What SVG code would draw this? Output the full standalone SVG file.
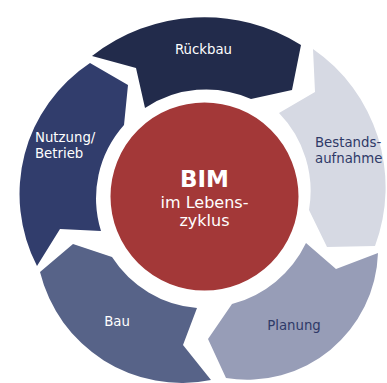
<svg xmlns="http://www.w3.org/2000/svg" width="387" height="383" viewBox="0 0 387 383">
  <style>
    .lbl { font-family: "DejaVu Sans", Verdana, sans-serif; font-size: 13.3px; }
    .light { fill: #ffffff; }
    .dark { fill: #2f3a68; }
    .center { font-family: "DejaVu Sans", Verdana, sans-serif; fill: #ffffff; text-anchor: middle; }
  </style>
  <rect width="387" height="383" fill="#ffffff"/>
  <g id="connectors"></g>
  <g id="node-rueckbau">
    <path d="M 92,56 A 182 182 0 0 1 301,45 L 292,90 L 251,99 A 110 110 0 0 0 145,108 L 136,68 Z" fill="#222b4b"/>
    <text class="lbl light" x="203.5" y="54" text-anchor="middle">Rückbau</text>
  </g>
  <g id="node-bestandsaufnahme">
    <path d="M 313,49 A 168 168 0 0 1 375,246 L 327,247 L 309,210 A 112 112 0 0 0 279,113 L 315,92 Z" fill="#d6d9e3"/>
    <text class="lbl dark" x="315" y="147">Bestands-</text>
    <text class="lbl dark" x="315" y="163">aufnahme</text>
  </g>
  <g id="node-planung">
    <path d="M 378,253 A 131 131 0 0 1 226,378 L 208,339 L 232,304 A 114 114 0 0 0 306,243 L 336,269 Z" fill="#979db7"/>
    <text class="lbl dark" x="294" y="329.5" text-anchor="middle">Planung</text>
  </g>
  <g id="node-bau">
    <path d="M 211,380 A 146 146 0 0 1 40,272 L 73,244 L 112,257 A 112 112 0 0 0 197,308 L 183,345 Z" fill="#576388"/>
    <text class="lbl light" x="117" y="326" text-anchor="middle">Bau</text>
  </g>
  <g id="node-nutzung">
    <path d="M 37,266 A 157 157 0 0 1 90,63 L 128,85 L 124,125 A 110 110 0 0 0 101,231 L 60,229 Z" fill="#313d6c"/>
    <text class="lbl light" x="35" y="141.5">Nutzung/</text>
    <text class="lbl light" x="35" y="158">Betrieb</text>
  </g>
  <g id="node-bim">
    <circle cx="204.5" cy="196.5" r="98" fill="#a33838" stroke="#ffffff" stroke-width="8"/>
    <text class="center" x="204.5" y="187" font-size="23" font-weight="bold">BIM</text>
    <text class="center" x="204.5" y="208" font-size="16">im Lebens-</text>
    <text class="center" x="204.5" y="226" font-size="16">zyklus</text>
  </g>
</svg>
